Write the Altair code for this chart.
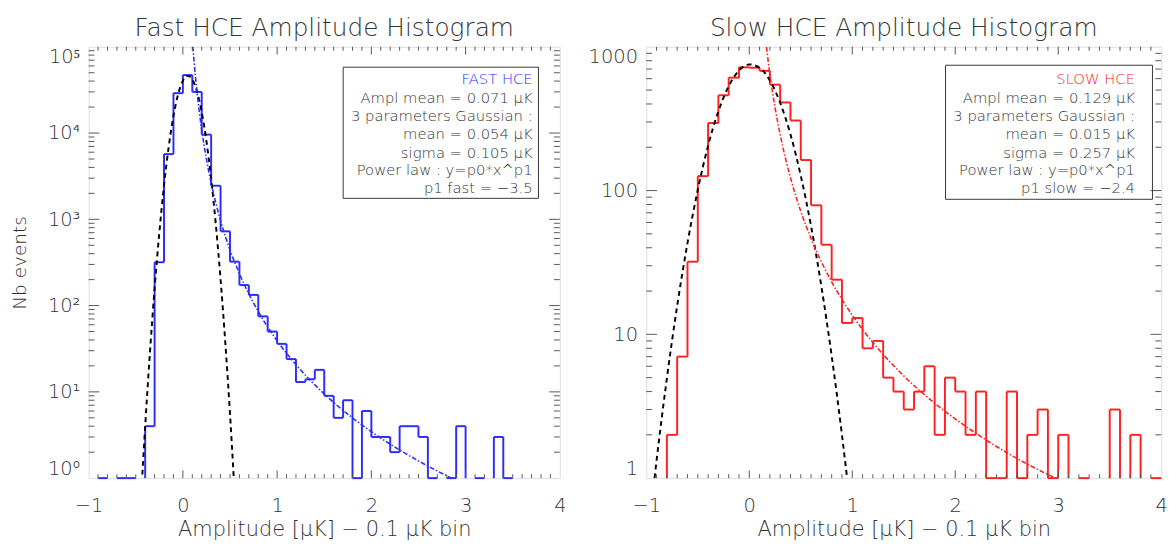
import altair as alt
import pandas as pd

# ---------------- data ----------------
bin_lo = [-1.0, -0.9, -0.8, -0.7, -0.6, -0.5, -0.4, -0.3, -0.2, -0.1,
          0.0, 0.1, 0.2, 0.3, 0.4, 0.5, 0.6, 0.7, 0.8, 0.9,
          1.0, 1.1, 1.2, 1.3, 1.4, 1.5, 1.6, 1.7, 1.8, 1.9,
          2.0, 2.1, 2.2, 2.3, 2.4, 2.5, 2.6, 2.7, 2.8, 2.9,
          3.0, 3.1, 3.2, 3.3, 3.4, 3.5, 3.6, 3.7, 3.8, 3.9]
bin_width = 0.1

fast_counts = [0, 1, 0, 1, 1, 0, 4, 318, 5700, 29000,
               47000, 30000, 9600, 2450, 726, 323, 173, 133, 75, 50,
               36, 24, 13, 14, 18, 9, 5, 8, 1, 6,
               3, 3, 2, 4, 4, 3, 1, 0, 1, 4,
               0, 1, 0, 3, 1, 0, 0, 0, 0, 0]

slow_counts = [0, 0, 2, 7, 32, 126, 295, 460, 610, 720,
               715, 680, 545, 410, 307, 163, 79, 42, 24, 12,
               13, 8, 9, 5, 4, 3, 4, 6, 2, 5,
               4, 2, 4, 1, 1, 4, 1, 2, 3, 1,
               2, 0, 1, 0, 0, 3, 0, 2, 0, 1]

# Gaussian fit curves (black dashed)
fast_gauss_x = [-0.43, -0.4, -0.35, -0.3, -0.25, -0.2, -0.15, -0.1, -0.05, 0.0, 0.054,
                0.1, 0.15, 0.2, 0.25, 0.3, 0.35, 0.4, 0.45, 0.5, 0.54]
fast_gauss_y = [1.1, 4.0, 28, 157, 696, 2470, 6970, 15700, 28200, 40300, 46000,
                41800, 30300, 17500, 8060, 2960, 865, 202, 37.5, 5.6, 1.0]
slow_gauss_x = [-0.92, -0.9, -0.8, -0.7, -0.6, -0.5, -0.4, -0.3, -0.2, -0.1, 0.0,
                0.1, 0.2, 0.3, 0.4, 0.5, 0.6, 0.7, 0.8, 0.9, 0.95]
slow_gauss_y = [1.0, 1.33, 4.95, 15.8, 43.1, 101, 205, 356, 532, 683, 754,
                715, 583, 408, 246, 127, 56.6, 21.6, 7.1, 2.0, 1.0]

# Power-law fit curves (dash-dot)
fast_pow_x = [0.106, 0.12, 0.15, 0.2, 0.25, 0.3, 0.4, 0.5, 0.6, 0.8, 1.0,
              1.2, 1.5, 1.8, 2.0, 2.3, 2.6, 2.85]
fast_pow_y = [100900, 65300, 29900, 10900, 5000, 2640, 966, 442, 234, 85.4, 39.1,
              20.7, 9.46, 5.0, 3.46, 2.12, 1.38, 1.0]
slow_pow_x = [0.167, 0.2, 0.25, 0.3, 0.4, 0.5, 0.6, 0.8, 1.0, 1.2, 1.5,
              1.8, 2.0, 2.3, 2.6, 2.97]
slow_pow_y = [998, 647, 379, 245, 123, 71.8, 46.3, 23.2, 13.6, 8.78, 5.14,
              3.32, 2.58, 1.84, 1.37, 1.0]

fast_text = ["FAST HCE", "Ampl mean = 0.071 μK", "3 parameters Gaussian :",
             "mean = 0.054 μK", "sigma = 0.105 μK", "Power law : y=p0*x^p1",
             "p1 fast = −3.5"]
slow_text = ["SLOW HCE", "Ampl mean = 0.129 μK", "3 parameters Gaussian :",
             "mean = 0.015 μK", "sigma = 0.257 μK", "Power law : y=p0*x^p1",
             "p1 slow = −2.4"]

x_tick_labels = [-1, 0, 1, 2, 3, 4]

# ---------------- style ----------------
FONT = "DejaVu Sans"
FW = 200
TXT = "#333333"
FRAME = "#555555"
BLUE = "#2b2bff"
RED = "#ff2020"
H = 444
LINE_Y = [33, 53, 71.5, 90, 109, 126.5, 145]


def panel(counts, color, gx, gy, px, py, ydom, ymajor, ylabel_expr, ytitle,
          title, lines, W, box, text_right):
    xs = alt.Scale(domain=[-1, 4], nice=False, zero=False)
    ys = alt.Scale(type="log", domain=ydom, nice=False)
    xaxis = alt.Axis(values=x_tick_labels, title="Amplitude [μK] − 0.1 μK bin",
                     labelExpr="datum.value < 0 ? '−' + abs(datum.value) : '' + datum.value",
                     ticks=False, tickSize=0, domain=False, grid=False,
                     labelFont=FONT, labelFontSize=20, labelFontWeight=FW,
                     labelColor=TXT, labelPadding=18,
                     labelFlush=False, labelOverlap=False,
                     titleFont=FONT, titleFontSize=21.5, titleColor=TXT,
                     titleFontWeight=FW, titlePadding=4)
    yargs = dict(values=ymajor, labelExpr=ylabel_expr, ticks=False, tickSize=0,
                 domain=False, grid=False, labelFont=FONT, labelFontSize=20,
                 labelFontWeight=FW,
                 labelColor=TXT, labelPadding=9, labelFlush=True, labelOverlap=False,
                 titleFont=FONT, titleFontSize=19, titleColor=TXT,
                 titleFontWeight=FW, titlePadding=19)
    if ytitle:
        yaxis = alt.Axis(title=ytitle, **yargs)
    else:
        yaxis = alt.Axis(title=None, **yargs)

    def X(f):
        return alt.X(f, type="quantitative", scale=xs, axis=xaxis)

    def Y(f):
        return alt.Y(f, type="quantitative", scale=ys, axis=yaxis)

    bins = pd.DataFrame({"lo": bin_lo,
                         "hi": [round(b + bin_width, 1) for b in bin_lo],
                         "n": counts})
    horiz = bins[bins.n >= 1]
    rows = []
    for i in range(1, len(counts)):
        a, b = counts[i - 1], counts[i]
        if a == 0 and b == 0:
            continue
        ya, yb = max(a, 1), max(b, 1)
        if ya == yb:
            continue
        rows.append({"e": bin_lo[i], "y1": ya, "y2": yb})
    verts = pd.DataFrame(rows)

    h_layer = alt.Chart(horiz).mark_rule(color=color, strokeWidth=2).encode(
        x=X("lo"), x2="hi", y=Y("n"))
    v_layer = alt.Chart(verts).mark_rule(color=color, strokeWidth=2).encode(
        x=X("e"), y=Y("y1"), y2="y2")
    gauss = alt.Chart(pd.DataFrame({"x": gx, "y": gy})).mark_line(
        color="black", strokeWidth=2, strokeDash=[5, 4], interpolate="monotone",
        clip=True).encode(x=X("x"), y=Y("y"))
    powl = alt.Chart(pd.DataFrame({"x": px, "y": py})).mark_line(
        color=color, strokeWidth=1.6, strokeDash=[5, 2, 1.5, 2], interpolate="monotone",
        clip=True).encode(x=X("x"), y=Y("y"))

    # axis ticks drawn inward on all four sides (IDL style)
    xminor = [round(-1 + 0.1 * k, 1) for k in range(1, 50) if k % 10 != 0]
    xmajor = [0, 1, 2, 3]
    yminor = []
    d = ydom[0]
    while d < ydom[1]:
        for k in range(2, 10):
            yminor.append(d * k)
        d *= 10
    ymaj_inner = [v for v in ymajor if ydom[0] < v < ydom[1]]
    tk = dict(color=FRAME, strokeWidth=1)
    ticks = []
    dfxmin = pd.DataFrame({"v": xminor})
    dfxmaj = pd.DataFrame({"v": xmajor})
    dfymin = pd.DataFrame({"v": yminor})
    dfymaj = pd.DataFrame({"v": ymaj_inner})
    ticks.append(alt.Chart(dfxmin).mark_rule(**tk).encode(x=X("v"), y=alt.value(H), y2=alt.value(H - 4)))
    ticks.append(alt.Chart(dfxmin).mark_rule(**tk).encode(x=X("v"), y=alt.value(0), y2=alt.value(4)))
    ticks.append(alt.Chart(dfxmaj).mark_rule(**tk).encode(x=X("v"), y=alt.value(H), y2=alt.value(H - 8)))
    ticks.append(alt.Chart(dfxmaj).mark_rule(**tk).encode(x=X("v"), y=alt.value(0), y2=alt.value(8)))
    ticks.append(alt.Chart(dfymin).mark_rule(**tk).encode(y=Y("v"), x=alt.value(0), x2=alt.value(6)))
    ticks.append(alt.Chart(dfymin).mark_rule(**tk).encode(y=Y("v"), x=alt.value(W - 6), x2=alt.value(W)))
    ticks.append(alt.Chart(dfymaj).mark_rule(**tk).encode(y=Y("v"), x=alt.value(0), x2=alt.value(11)))
    ticks.append(alt.Chart(dfymaj).mark_rule(**tk).encode(y=Y("v"), x=alt.value(W - 11), x2=alt.value(W)))

    dummy = pd.DataFrame({"a": [0]})
    boxl = alt.Chart(dummy).mark_rect(fill="white", fillOpacity=0, stroke="#333333",
                                      strokeWidth=1).encode(
        x=alt.value(box[0]), x2=alt.value(box[1]), y=alt.value(box[2]), y2=alt.value(box[3]))
    texts = []
    for i, t in enumerate(lines):
        texts.append(alt.Chart(dummy).mark_text(
            text=t, align="right", baseline="middle", font=FONT, fontSize=15.2,
            fontWeight=FW, color=(color if i == 0 else TXT)).encode(
            x=alt.value(text_right), y=alt.value(LINE_Y[i])))

    layers = [h_layer, v_layer, gauss, powl] + ticks + [boxl] + texts
    return alt.layer(*layers).properties(
        width=W, height=H,
        title=alt.TitleParams(title, font=FONT, fontSize=25.5, fontWeight=FW,
                              color=TXT, anchor="middle", frame="group", offset=5))


left = panel(fast_counts, BLUE, fast_gauss_x, fast_gauss_y, fast_pow_x, fast_pow_y,
             [1, 100000], [1, 10, 100, 1000, 10000, 100000],
             "'10' + ['⁰','¹','²','³','⁴','⁵'][round(log(datum.value)/LN10)]",
             "Nb events", "Fast HCE Amplitude Histogram", fast_text, 485,
             (262, 463, 21, 156), 457)
right = panel(slow_counts, RED, slow_gauss_x, slow_gauss_y, slow_pow_x, slow_pow_y,
              [1, 1000], [1, 10, 100, 1000],
              "format(datum.value, 'd')",
              None, "Slow HCE Amplitude Histogram", slow_text, 530,
              (308, 521, 19, 157), 503)

chart = alt.hconcat(left, right, spacing=21).properties(
    padding={"left": 2, "top": 0, "right": 0, "bottom": 0}
).configure_view(stroke=FRAME, strokeWidth=1).configure(background="white")

chart.save("out.html", embed_options={"renderer": "svg", "actions": False})
